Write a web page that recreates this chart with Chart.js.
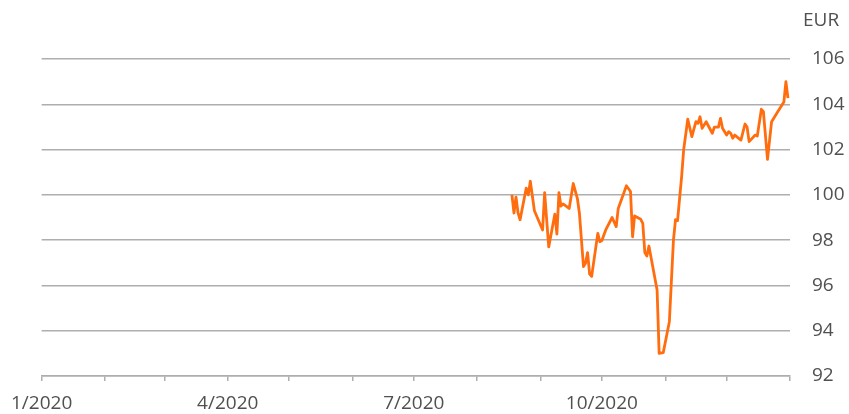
<!DOCTYPE html>
<html>
<head>
<meta charset="utf-8">
<script src="https://cdn.jsdelivr.net/npm/chart.js@4/dist/chart.umd.min.js"></script>
<style>
  html, body { margin: 0; padding: 0; background: #fff; }
  #wrap { width: 849px; height: 414px; }
</style>
</head>
<body>
<div id="wrap"><canvas id="priceChart" width="849" height="414"></canvas></div>
<script>
// Days since 1 Jan 2020 for each observation
const days = [
  230, 231, 232, 233, 234, 237, 238, 239, 241, 245,
  246, 248, 251, 252, 253, 254, 255, 258, 260, 262,
  263, 265, 266, 267, 268, 269, 272, 273, 274, 276,
  279, 281, 282, 286, 288, 289, 290, 293, 294, 295,
  296, 297, 301, 302, 304, 307, 309, 310, 311, 313,
  314, 316, 318, 320, 321, 322, 323, 325, 328, 329,
  331, 332, 333, 335, 336, 337, 338, 339, 342, 344,
  345, 346, 349, 350, 352, 353, 355, 357, 360, 363,
  364, 365
];

// Price in EUR
const prices = [
  100.0, 99.2, 99.9, 99.2, 98.9, 100.3, 100.0, 100.6, 99.3, 98.45,
  100.1, 97.7, 99.15, 98.27, 100.1, 99.5, 99.6, 99.4, 100.5, 99.85,
  99.2, 96.83, 96.98, 97.45, 96.5, 96.4, 98.3, 97.93, 97.98, 98.48,
  99.0, 98.6, 99.4, 100.4, 100.15, 98.15, 99.07, 98.92, 98.74, 97.45,
  97.3, 97.74, 95.8, 93.0, 93.03, 94.4, 98.0, 98.9, 98.86, 100.8,
  102.0, 103.34, 102.57, 103.23, 103.16, 103.45, 102.94, 103.23, 102.72, 102.99,
  102.99, 103.38, 102.94, 102.64, 102.79, 102.72, 102.5, 102.64, 102.42, 103.13,
  103.0, 102.35, 102.64, 102.6, 103.78, 103.67, 101.57, 103.23, 103.67, 104.1,
  105.0, 104.27
];

// Month starts (days since 1 Jan 2020) and their labels, quarters only labelled
const monthStarts = [0, 31, 60, 91, 121, 152, 182, 213, 244, 274, 305, 335, 366];
const monthLabels = ['1/2020', '', '', '4/2020', '', '', '7/2020', '', '', '10/2020', '', '', ''];

const yTicks = [92, 94, 96, 98, 100, 102, 104, 106];
const unitLabel = 'EUR';

const FONT = "'Open Sans', sans-serif";
const GRID = '#aeaeae';
const TEXT = '#505050';

// draws the unit label above the right axis
const unitPlugin = {
  id: 'unitLabel',
  afterDraw(chart) {
    const ctx = chart.ctx;
    const y = chart.scales.y;
    ctx.save();
    ctx.fillStyle = TEXT;
    ctx.font = '19px ' + FONT;
    ctx.textBaseline = 'middle';
    ctx.textAlign = 'left';
    ctx.fillText(unitLabel, y.left + 13, 21);
    ctx.restore();
  }
};

const points = days.map((d, i) => ({ x: d, y: prices[i] }));

new Chart(document.getElementById('priceChart'), {
  type: 'line',
  data: {
    datasets: [{
      data: points,
      borderColor: '#ff6d0f',
      borderWidth: 2.8,
      borderJoinStyle: 'round',
      pointRadius: 0,
      tension: 0,
      fill: false
    }]
  },
  options: {
    responsive: false,
    animation: false,
    layout: { padding: { left: 41, right: 0, top: 59, bottom: 0 } },
    plugins: { legend: { display: false }, tooltip: { enabled: false } },
    scales: {
      x: {
        type: 'linear',
        min: 0,
        max: 366,
        afterBuildTicks(scale) {
          scale.ticks = monthStarts.map(v => ({ value: v }));
        },
        afterFit(scale) {
          scale.height = 38;
        },
        grid: { drawOnChartArea: false, drawTicks: true, tickLength: 5, color: GRID, lineWidth: 1.5 },
        border: { display: true, color: GRID, width: 1.5 },
        ticks: {
          autoSkip: false,
          maxRotation: 0,
          padding: 11,
          color: TEXT,
          font: { family: FONT, size: 19 },
          callback(value) {
            const i = monthStarts.indexOf(value);
            return i >= 0 ? monthLabels[i] : '';
          }
        }
      },
      y: {
        position: 'right',
        min: 92,
        max: 106,
        afterBuildTicks(scale) {
          scale.ticks = yTicks.map(v => ({ value: v }));
        },
        afterFit(scale) {
          scale.width = 59;
        },
        grid: { drawTicks: false, color: GRID, lineWidth: 1.5 },
        border: { display: false },
        ticks: {
          padding: 22,
          color: TEXT,
          font: { family: FONT, size: 19 }
        }
      }
    }
  },
  plugins: [unitPlugin]
});
</script>
</body>
</html>
